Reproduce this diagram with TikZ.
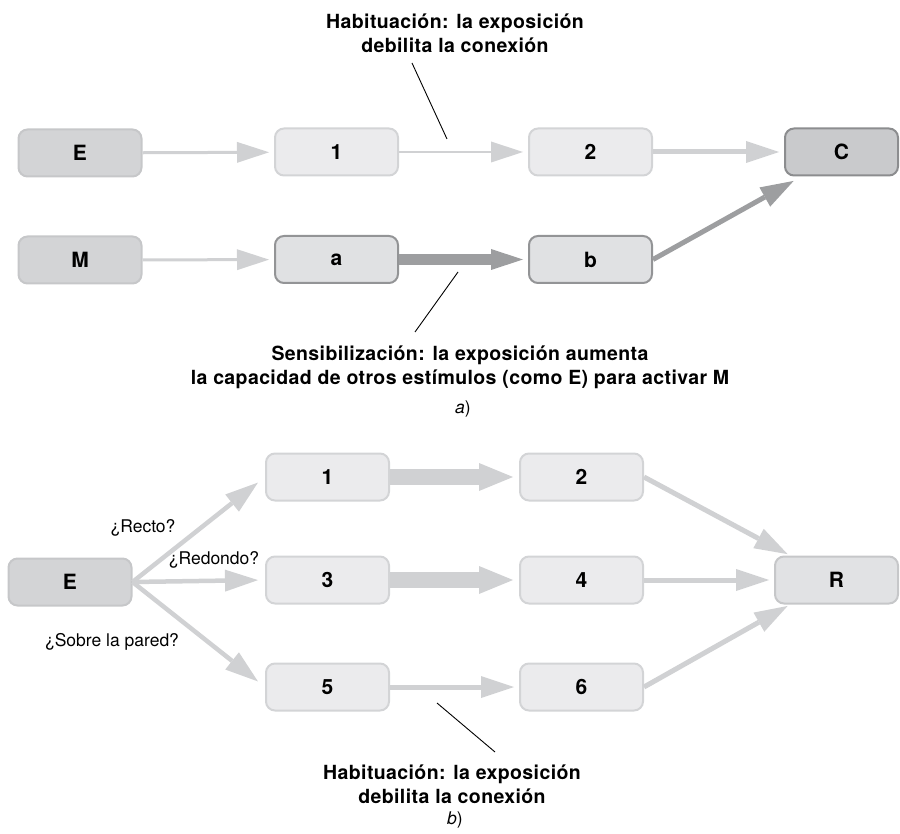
\documentclass[tikz,border=0pt]{standalone}
\usepackage{fontspec}
\setmainfont{TeX Gyre Heros}
\newfontfamily\espaciada[LetterSpace=2]{TeX Gyre Heros}
\usetikzlibrary{arrows.meta,calc,positioning}

\definecolor{fondoclaro}{HTML}{EBEBED}
\definecolor{bordeclaro}{HTML}{D3D4D6}
\definecolor{fondomedio}{HTML}{D3D4D6}
\definecolor{bordemedio}{HTML}{C6C7C9}
\definecolor{fondooscuro}{HTML}{C9CACC}
\definecolor{bordeoscuro}{HTML}{8C8D8F}
\definecolor{fondosens}{HTML}{E0E1E3}
\definecolor{bordesens}{HTML}{939496}
\definecolor{flechaclara}{HTML}{D0D1D3}
\definecolor{flechaoscura}{HTML}{9D9EA0}

\newcommand{\negrita}{\espaciada\bfseries\fontsize{19.5}{24}\selectfont}
\newcommand{\rotulo}{\bfseries\fontsize{21}{24}\selectfont}
\newcommand{\normal}{\fontsize{17.5}{21}\selectfont}

\begin{document}
\begin{tikzpicture}[x=1pt,y=1pt,
  caja/.style={rounded corners=9pt, line width=2pt, minimum width=123pt,
    minimum height=47pt, inner sep=0pt, font=\rotulo},
  clara/.style={caja, draw=bordeclaro, fill=fondoclaro},
  media/.style={caja, draw=bordemedio, fill=fondomedio},
  oscura/.style={caja, draw=bordeoscuro, fill=fondooscuro},
  sens/.style={caja, draw=bordesens, fill=fondosens},
  fina/.style={draw=flechaclara, line width=3pt, shorten >=5pt,
    -{Triangle[length=32pt,width=21pt,line width=0pt]}},
  linea/.style={draw=flechaclara, line width=2pt, shorten >=5pt,
    -{Triangle[length=32pt,width=21pt,line width=0pt]}},
  flujo/.style={draw=flechaclara, line width=5pt, shorten >=5pt,
    -{Triangle[length=33pt,width=22pt,line width=0pt]}},
  gruesa/.style={draw=flechaclara, line width=16pt, shorten >=6pt,
    -{Triangle[length=34pt,width=28pt,line width=0pt]}},
  fuerte/.style={draw=flechaoscura, line width=11pt, shorten >=5pt,
    -{Triangle[length=32pt,width=21pt,line width=0pt]}},
  puntero/.style={draw=black, line width=0.9pt},
  texto/.style={align=center, font=\negrita},
  pregunta/.style={font=\normal}]

  \useasboundingbox (0,0) rectangle (900,-834);

  % a) habituacion y sensibilizacion
  \node[media]  (E)  at (80,-153)   {E};
  \node[clara]  (n1) at (336.5,-152) {1};
  \node[clara]  (n2) at (590.5,-152) {2};
  \node[oscura, minimum width=113pt] (C) at (841.5,-152) {C};
  \node[media]  (M)  at (80,-260)   {M};
  \node[sens]   (a)  at (336.5,-259.5) {a};
  \node[sens]   (b)  at (590.5,-259.5) {b};

  \draw[fina]   (E) -- (n1);
  \draw[linea]  (n1) -- (n2);
  \draw[flujo]  (n2) -- (C);
  \draw[fina]   (M) -- (a);
  \draw[fuerte] (a) -- (b);
  \draw[flujo, draw=flechaoscura, line width=5pt] (b.east) -- ($(C.south west)+(14,-2)$);

  \node[texto] (habA) at (455,-33) {Habituación: la exposición\\debilita la conexión};
  \coordinate (pA1) at (412,-63);
  \coordinate (pA2) at (447,-139);
  \draw[puntero] (pA1) -- (pA2);

  \node[texto] (sensA) at (460,-367) {Sensibilización: la exposición aumenta\\la capacidad de otros estímulos (como E) para activar M};
  \coordinate (pS1) at (458,-272);
  \coordinate (pS2) at (415,-332);
  \draw[puntero] (pS1) -- (pS2);

  \node[font=\normal] (etA) at (463,-409) {\textit{a})};

  % b) tres caminos hacia R
  \node[media] (E2) at (70,-582)    {E};
  \node[clara] (c1) at (327.5,-477) {1};
  \node[clara] (c2) at (581.5,-477) {2};
  \node[clara] (c3) at (327.5,-580) {3};
  \node[clara] (c4) at (581.5,-580) {4};
  \node[clara] (c5) at (327.5,-687) {5};
  \node[clara] (c6) at (581.5,-687) {6};
  \node[media, fill=fondoclaro!60!fondomedio] (R) at (836.5,-580) {R};

  \draw[flujo, line width=4.5pt, shorten >=9pt] (E2.east) -- (c1.west);
  \draw[flujo, line width=4.5pt, shorten >=7pt] (E2.east) -- (c3.west);
  \draw[flujo, line width=4.5pt, shorten >=9pt] (E2.east) -- (c5.west);
  \draw[gruesa] (c1) -- (c2);
  \draw[gruesa] (c3) -- (c4);
  \draw[flujo]  (c5) -- (c6);
  \draw[flujo]  (c2.east) -- ($(R.north west)+(18,-1)$);
  \draw[flujo]  (c4) -- (R);
  \draw[flujo]  (c6.east) -- ($(R.south west)+(18,1)$);

  \node[pregunta] (q1) at (143,-528) {¿Recto?};
  \node[pregunta] (q2) at (214,-560) {¿Redondo?};
  \node[pregunta] (q3) at (112,-642) {¿Sobre la pared?};

  \node[texto] (habB) at (452,-784) {Habituación: la exposición\\debilita la conexión};
  \coordinate (pB1) at (437,-703);
  \coordinate (pB2) at (495,-752);
  \draw[puntero] (pB1) -- (pB2);

  \node[font=\normal] (etB) at (455,-820) {\textit{b})};
\end{tikzpicture}
\end{document}
